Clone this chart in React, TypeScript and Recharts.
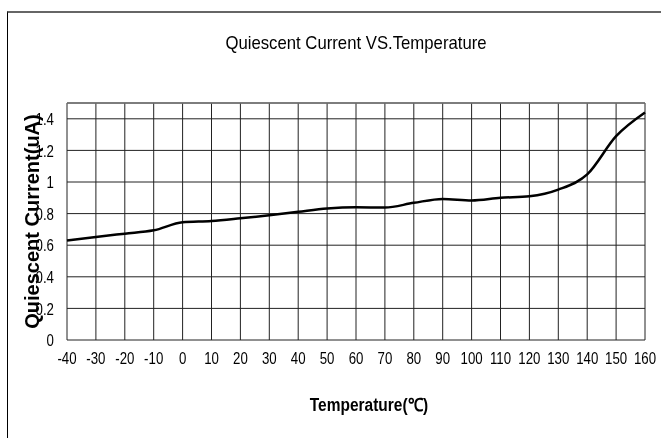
import { LineChart, Line, XAxis, YAxis, CartesianGrid, ReferenceLine, Label } from "recharts";

const temperatures = [-40, -30, -20, -10, 0, 10, 20, 30, 40, 50, 60, 70, 80, 90, 100, 110, 120, 130, 140, 150, 160];
const currents = [0.63, 0.652, 0.673, 0.694, 0.745, 0.753, 0.77, 0.789, 0.811, 0.832, 0.84, 0.838, 0.868, 0.893, 0.883, 0.9, 0.91, 0.952, 1.048, 1.29, 1.44];
const xTicks = [-40, -30, -20, -10, 0, 10, 20, 30, 40, 50, 60, 70, 80, 90, 100, 110, 120, 130, 140, 150, 160];
const yTicks = [0, 0.2, 0.4, 0.6, 0.8, 1, 1.2, 1.4];

const data = temperatures.map((t, i) => ({ temp: t, current: currents[i] }));

const FONT = "'Liberation Sans', Arial, sans-serif";

// the original uses a condensed face, so squeeze the tick text horizontally
const NarrowTick = (props: any) => {
  const { x, y, payload, textAnchor, vertical } = props;
  return (
    <text
      transform={`translate(${x},${y}) scale(0.78,1)`}
      x={0}
      y={0}
      dy={vertical ? "0.36em" : "0.71em"}
      textAnchor={textAnchor}
      fontFamily={FONT}
      fontSize={17}
      fill="#000"
    >
      {payload.value}
    </text>
  );
};

export default function App() {
  return (
    <div style={{ position: "fixed", left: 0, top: 0, width: 661, height: 438, background: "#fff" }}>
      <div
        style={{
          position: "absolute",
          left: 7,
          top: 11,
          width: 654,
          height: 427,
          borderTop: "2px solid #666",
          borderLeft: "1px solid #000",
          boxSizing: "border-box",
        }}
      />
      <div
        style={{
          position: "absolute",
          left: 0,
          width: 712,
          top: 33,
          textAlign: "center",
          fontFamily: FONT,
          fontSize: 19,
          lineHeight: "19px",
          color: "#000",
          transform: "scaleX(0.88)",
          transformOrigin: "356px 0",
        }}
      >
        Quiescent Current VS.Temperature
      </div>
      <div
        style={{
          position: "absolute",
          left: 0,
          width: 738,
          top: 396,
          textAlign: "center",
          fontFamily: FONT,
          fontSize: 18,
          fontWeight: "bold",
          lineHeight: "18px",
          color: "#000",
          transform: "scaleX(0.86)",
          transformOrigin: "369px 0",
        }}
      >
        Temperature(℃)
      </div>
      <LineChart width={661} height={438} data={data} margin={{ top: 103, right: 16, bottom: 26, left: 0 }}>
        <CartesianGrid stroke="#222" strokeWidth={1} />
        <ReferenceLine y={1.5} stroke="#777" strokeWidth={1.5} />
        <XAxis
          dataKey="temp"
          type="number"
          domain={[-40, 160]}
          ticks={xTicks}
          interval={0}
          axisLine={false}
          tickLine={false}
          tickMargin={6}
          height={72}
          tick={<NarrowTick />}
        />
        <YAxis
          type="number"
          domain={[0, 1.5]}
          ticks={yTicks}
          interval={0}
          axisLine={false}
          tickLine={false}
          tickMargin={7}
          width={67}
          tick={<NarrowTick vertical />}
        >
          <Label
            value="Quiescent Current(uA)"
            angle={-90}
            position="center"
            dx={-2}
            style={{ fontFamily: FONT, fontSize: 20, fontWeight: "bold", fill: "#000" }}
          />
        </YAxis>
        <Line
          type="monotone"
          dataKey="current"
          stroke="#000"
          strokeWidth={2.5}
          dot={false}
          isAnimationActive={false}
        />
      </LineChart>
    </div>
  );
}
